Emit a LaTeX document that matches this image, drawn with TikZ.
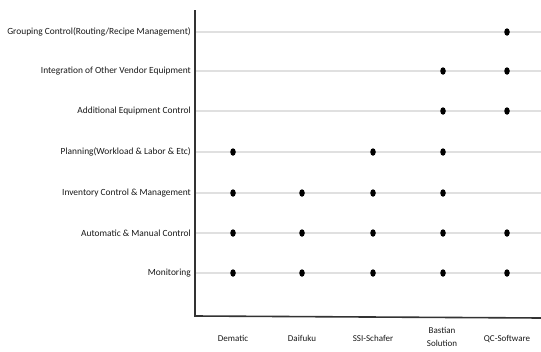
\documentclass[tikz,border=0pt]{standalone}
\usepackage{fontspec}
\setmainfont{Carlito}
\usetikzlibrary{shapes.geometric}
\begin{document}
\begin{tikzpicture}[x=1pt,y=-1pt,
  rowlabel/.style={anchor=east,inner sep=0pt,font=\fontsize{9.4}{11}\selectfont,text=black!90},
  collabel/.style={anchor=north,inner sep=0pt,font=\fontsize{9}{13.5}\selectfont,text=black!90,align=center},
  dot/.style={ellipse,fill=black,inner sep=0pt,minimum width=5.5pt,minimum height=7.5pt},
  grid/.style={draw=black!12,line width=1.2pt},
  axis/.style={draw=black!80,line width=1.6pt}]
\useasboundingbox (0,0) rectangle (541,351);
% rows
\foreach \n/\y/\t in {r1/32/{Grouping Control(Routing/Recipe Management)},
  r2/71/{Integration of Other Vendor Equipment},
  r3/111/{Additional Equipment Control},
  r4/152/{Planning(Workload \& Labor \& Etc)},
  r5/193/{Inventory Control \& Management},
  r6/233/{Automatic \& Manual Control},
  r7/273/{Monitoring}} {
  \node[rowlabel] (\n) at (191,\y) {\t};
  \coordinate (\n s) at (195,\y);
  \coordinate (\n e) at (541,\y);
  \draw[grid] (\n s) -- (\n e);
}
% axes
\coordinate (top) at (195,10);
\coordinate (org) at (195,316);
\coordinate (xend) at (541,318);
\draw[axis] (top) -- (org) -- (xend);
% columns
\node[collabel] (c1) at (233,335) {Dematic};
\node[collabel] (c2) at (302,335) {Daifuku};
\node[collabel] (c3) at (373,335) {SSI-Schafer};
\node[collabel] (c4) at (442,327) {Bastian\\Solution};
\node[collabel] (c5) at (507,335) {QC-Software};
% dots
\foreach \x/\y in {507/32,
  443/71,507/71,
  443/111,507/111,
  233/152,373/152,443/152,
  233/193,302/193,373/193,443/193,
  233/233,302/233,373/233,443/233,507/233,
  233/273,302/273,373/273,443/273,507/273} {
  \node[dot] (d\x-\y) at (\x,\y) {};
}
\end{tikzpicture}
\end{document}
